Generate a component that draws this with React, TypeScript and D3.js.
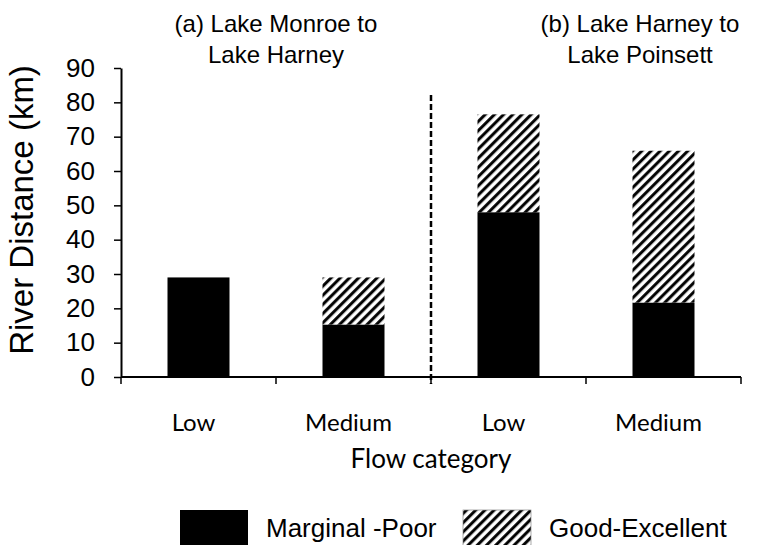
import React, { useEffect, useRef } from 'react'
import * as d3 from 'd3'

const categories = ['Low', 'Medium', 'Low', 'Medium']
const marginalPoor = [29, 15.3, 48, 21.7]
const goodExcellent = [0, 13.7, 28.5, 44.2]
const yTicks = [0, 10, 20, 30, 40, 50, 60, 70, 80, 90]
const reaches = [
  ['(a) Lake Monroe to', 'Lake Harney'],
  ['(b) Lake Harney to', 'Lake Poinsett'],
]
const seriesNames = ['Marginal -Poor', 'Good-Excellent']

export default function App() {
  const svgRef = useRef<SVGSVGElement>(null)

  useEffect(() => {
    const width = 759
    const height = 545
    const left = 121
    const right = 741
    const top = 68
    const bottom = 377
    const arial = 'Liberation Sans, Arial, sans-serif'

    const svg = d3.select(svgRef.current)
    svg.selectAll('*').remove()
    svg.attr('width', width).attr('height', height)

    const defs = svg.append('defs')
    const pat = defs.append('pattern')
      .attr('id', 'hatch')
      .attr('patternUnits', 'userSpaceOnUse')
      .attr('width', 6.5)
      .attr('height', 6.5)
      .attr('patternTransform', 'rotate(45)')
    pat.append('rect').attr('width', 6.5).attr('height', 6.5).attr('fill', '#fff')
    pat.append('line')
      .attr('x1', 1.6).attr('x2', 1.6)
      .attr('y1', 0).attr('y2', 6.5)
      .attr('stroke', '#000')
      .attr('stroke-width', 3)

    const x = d3.scaleBand<number>()
      .domain(categories.map((d, i) => i))
      .range([left, right])
      .paddingInner(0.6)
      .paddingOuter(0.3)

    const bandStep = (right - left) / categories.length

    const y = d3.scaleLinear()
      .domain([0, 90])
      .range([bottom, top])

    // stacked bars
    svg.selectAll('.mp')
      .data(marginalPoor)
      .join('rect')
      .attr('x', (d, i) => x(i)!)
      .attr('y', d => y(d))
      .attr('width', x.bandwidth())
      .attr('height', d => y(0) - y(d))
      .attr('fill', '#000')

    svg.selectAll('.ge')
      .data(goodExcellent)
      .join('rect')
      .attr('x', (d, i) => x(i)!)
      .attr('y', (d, i) => y(marginalPoor[i] + d))
      .attr('width', x.bandwidth())
      .attr('height', d => y(0) - y(d))
      .attr('fill', 'url(#hatch)')

    // y axis
    const yAxis = d3.axisLeft(y).tickValues(yTicks).tickSize(7).tickSizeOuter(0).tickPadding(19)
    const gy = svg.append('g')
      .attr('transform', `translate(${left},0)`)
      .call(yAxis)
    gy.select('.domain').attr('stroke-width', 2)
    gy.selectAll('.tick line').attr('stroke-width', 1.5)
    gy.selectAll('.tick text')
      .attr('font-family', arial)
      .attr('font-size', 26)
      .attr('fill', '#000')

    // x axis
    svg.append('line')
      .attr('x1', left).attr('x2', right)
      .attr('y1', bottom).attr('y2', bottom)
      .attr('stroke', '#000').attr('stroke-width', 2)
    const edges = d3.range(categories.length + 1).map(i => left + i * bandStep)
    svg.selectAll('.xt')
      .data(edges)
      .join('line')
      .attr('x1', d => d).attr('x2', d => d)
      .attr('y1', bottom).attr('y2', bottom + 7)
      .attr('stroke', '#000').attr('stroke-width', 1.5)

    svg.selectAll('.xl')
      .data(categories)
      .join('text')
      .attr('x', (d, i) => x(i)! + x.bandwidth() / 2 - 5)
      .attr('y', 431)
      .attr('text-anchor', 'middle')
      .attr('font-family', 'Lato, sans-serif')
      .attr('font-size', 24)
      .text(d => d)

    // divider
    svg.append('line')
      .attr('x1', left + 2 * bandStep).attr('x2', left + 2 * bandStep)
      .attr('y1', 95).attr('y2', bottom + 7)
      .attr('stroke', '#000').attr('stroke-width', 2.5)
      .attr('stroke-dasharray', '6,3')

    // titles
    reaches.forEach((lines, k) => {
      const cx = k === 0 ? 276 : 640
      lines.forEach((t, j) => {
        svg.append('text')
          .attr('x', cx)
          .attr('y', 32 + j * 31)
          .attr('text-anchor', 'middle')
          .attr('font-family', arial)
          .attr('font-size', 24)
          .text(t)
      })
    })

    svg.append('text')
      .attr('transform', `translate(33,210) rotate(-90)`)
      .attr('text-anchor', 'middle')
      .attr('font-family', arial)
      .attr('font-size', 33)
      .text('River Distance (km)')

    svg.append('text')
      .attr('x', (left + right) / 2)
      .attr('y', 468)
      .attr('text-anchor', 'middle')
      .attr('font-family', 'Lato, sans-serif')
      .attr('font-size', 26)
      .text('Flow category')

    // legend
    const legendX = [180, 463]
    const legendFill = ['#000', 'url(#hatch)']
    seriesNames.forEach((name, i) => {
      svg.append('rect')
        .attr('x', legendX[i]).attr('y', 510)
        .attr('width', 68).attr('height', 36)
        .attr('fill', legendFill[i])
        .attr('stroke', i === 1 ? '#888' : 'none')
        .attr('stroke-width', 0.7)
      svg.append('text')
        .attr('x', legendX[i] + 86)
        .attr('y', 537)
        .attr('font-family', arial)
        .attr('font-size', 26)
        .text(name)
    })
  }, [])

  return (
    <div>
      <svg ref={svgRef} style={{ position: 'absolute', left: 0, top: 0 }}></svg>
    </div>
  )
}
